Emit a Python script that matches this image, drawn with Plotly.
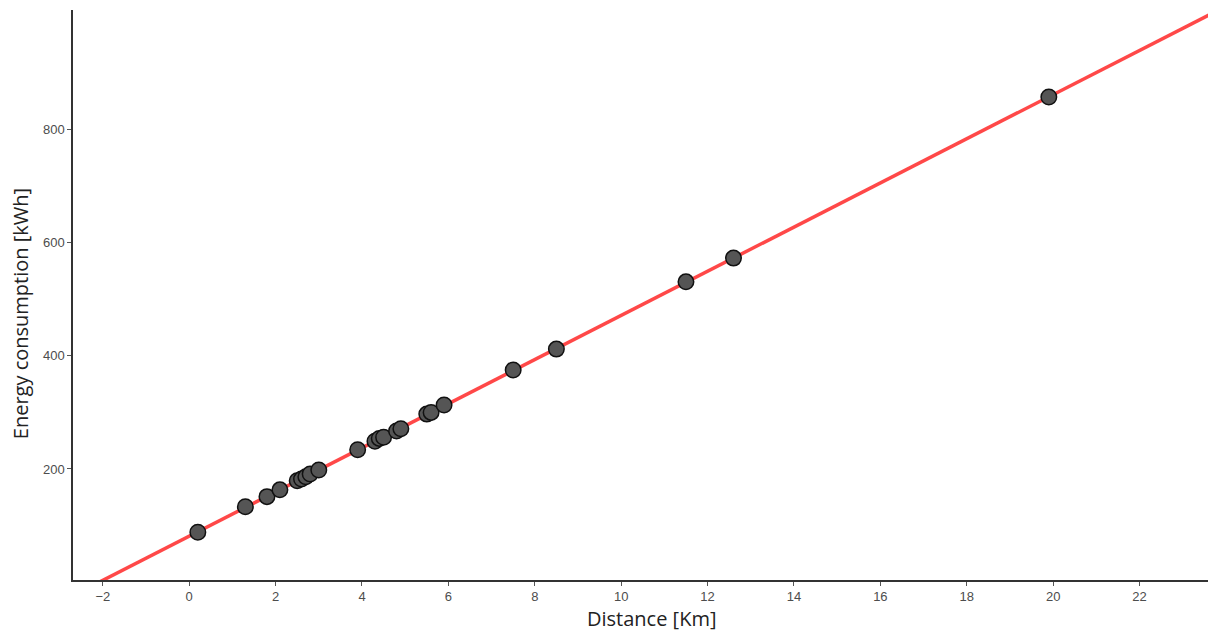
import numpy as np
import plotly.graph_objects as go

distance_km = [0.2, 1.3, 1.8, 2.1, 2.5, 2.6, 2.7, 2.8, 3.0, 3.9, 4.3, 4.4, 4.5,
               4.8, 4.9, 5.5, 5.6, 5.9, 7.5, 8.5, 11.5, 12.6, 19.9]
energy_kwh = [88, 133, 151, 163, 179, 182, 186, 191, 198, 234, 249, 254, 256,
              267, 271, 297, 300, 313, 375, 412, 531, 573, 858]

x_ticks = [-2, 0, 2, 4, 6, 8, 10, 12, 14, 16, 18, 20, 22]
y_ticks = [200, 400, 600, 800]

X_RANGE = [-2.69, 23.77]
Y_RANGE = [3.5, 1012]

slope, intercept = np.polyfit(distance_km, energy_kwh, 1)
line_x = np.array(X_RANGE)
line_y = intercept + slope * line_x

fig = go.Figure()
fig.add_trace(go.Scatter(
    x=line_x, y=line_y, mode="lines",
    line=dict(color="rgba(255,40,40,0.85)", width=3.5),
    hoverinfo="skip", showlegend=False,
))
fig.add_trace(go.Scatter(
    x=distance_km, y=energy_kwh, mode="markers",
    marker=dict(size=15.5, color="#555555", line=dict(color="#111111", width=1.5)),
    showlegend=False,
))

axis_common = dict(
    showgrid=False, zeroline=False, showline=True, linecolor="#333333", linewidth=1.5,
    ticks="outside", ticklen=4, tickcolor="#555555", tickwidth=1,
    tickfont=dict(family="Liberation Sans, Arial", size=13, color="#4d4d4d"),
    automargin=False,
)

title_font = dict(family="Open Sans, Noto Sans", size=20, color="#222222")

fig.update_layout(
    width=1208, height=623,
    paper_bgcolor="white", plot_bgcolor="white",
    margin=dict(l=65, r=0, t=2, b=51, autoexpand=False),
    xaxis=dict(range=X_RANGE, tickvals=x_ticks, **axis_common),
    yaxis=dict(range=Y_RANGE, tickvals=y_ticks, **axis_common),
    annotations=[
        dict(text="Distance [Km]", xref="paper", yref="paper", x=0.5057, y=-0.0684,
             xanchor="center", yanchor="middle", showarrow=False, font=title_font),
        dict(text="Energy consumption [kWh]", xref="paper", yref="paper", x=-0.0464, y=0.468,
             xanchor="center", yanchor="middle", textangle=-90, showarrow=False, font=title_font),
    ],
)

fig.write_html("out.html")
